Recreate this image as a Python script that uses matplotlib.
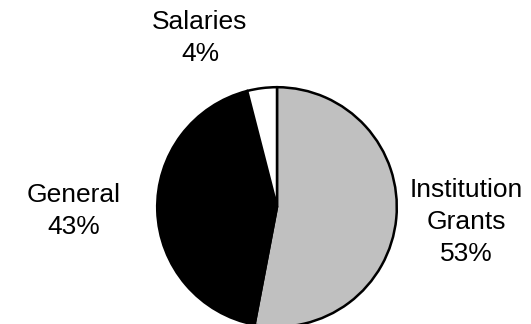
import matplotlib
matplotlib.use("Agg")
import matplotlib.pyplot as plt

categories = ["Institution\nGrants", "General", "Salaries"]
values = [53, 43, 4]
colors = ["#C0C0C0", "#000000", "#FFFFFF"]

plt.rcParams['font.family'] = ['Liberation Sans', 'DejaVu Sans']

W, H = 531, 324
fig = plt.figure(figsize=(W/100, H/100), dpi=100)
cx, cy, r = 277, 207, 121
ax = fig.add_axes([(cx - r)/W, (H - cy - r)/H, 2*r/W, 2*r/H])
ax.pie(values, colors=colors, startangle=90, counterclock=False,
       wedgeprops=dict(edgecolor='black', linewidth=1.8), radius=1)
ax.set_xlim(-1.01, 1.01)
ax.set_ylim(-1.01, 1.01)
ax.set_aspect('equal')
ax.axis('off')

label_pos = [(466, 222), (74, 211), (200, 38)]
for cat, v, (px, py) in zip(categories, values, label_pos):
    fig.text(px/W, 1 - py/H, f"{cat}\n{v}%", ha='center', va='center',
             fontsize=19, linespacing=1.4)

fig.savefig("out.png", dpi=100)
